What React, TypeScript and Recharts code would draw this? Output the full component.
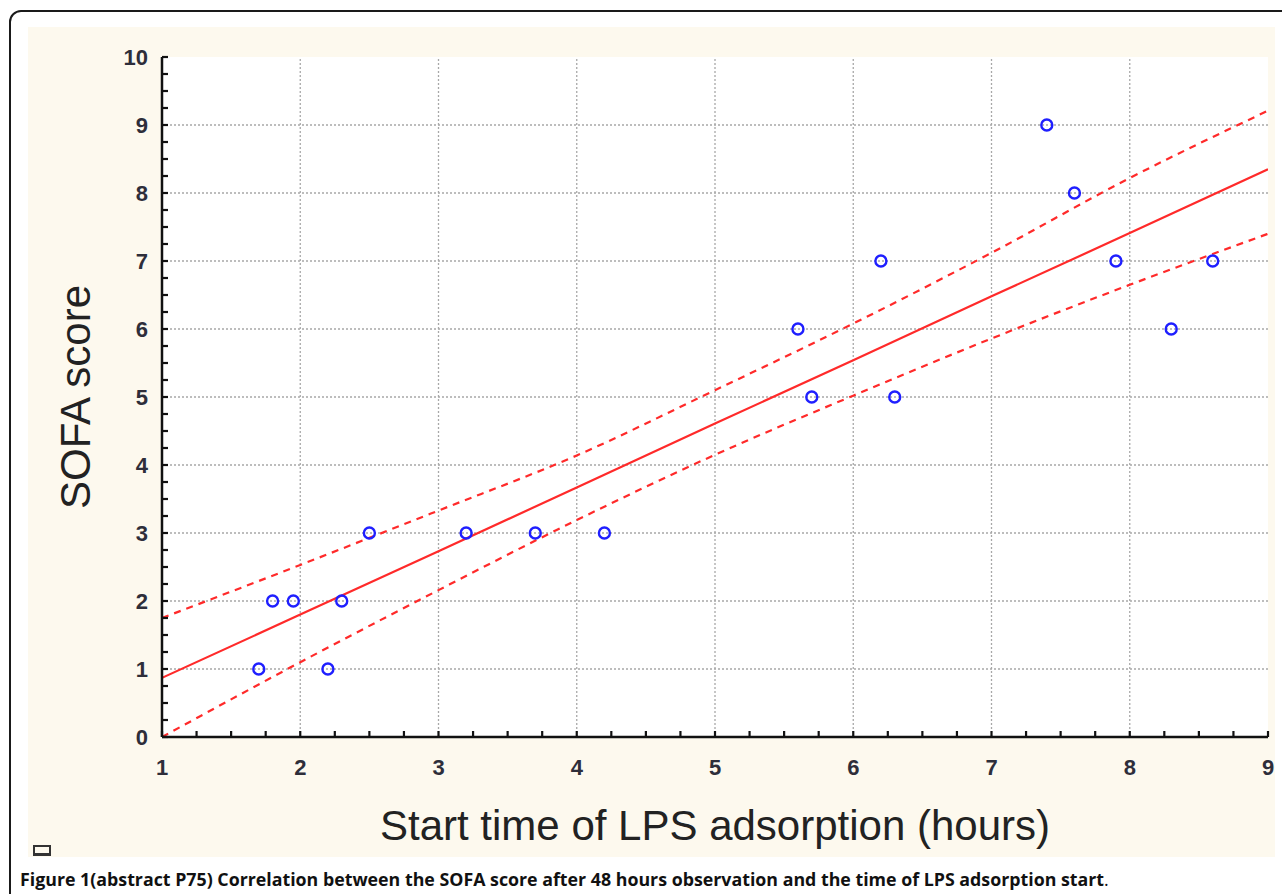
import React from 'react';
import { ComposedChart, Scatter, Line, XAxis, YAxis, ReferenceLine } from 'recharts';

// observations (start of LPS adsorption in hours, SOFA score after 48 h)
const startHours = [1.7, 1.8, 1.95, 2.2, 2.3, 2.5, 3.2, 3.7, 4.2, 5.6, 5.7, 6.2, 6.3, 7.4, 7.6, 7.9, 8.3, 8.6];
const sofaScores = [1, 2, 2, 1, 2, 3, 3, 3, 3, 6, 5, 7, 5, 9, 8, 7, 6, 7];

// regression line and 95% band
const fitHours = [1, 2, 3, 4, 5, 6, 7, 8, 9];
const fitCentre = [0.87, 1.8, 2.73, 3.67, 4.61, 5.54, 6.48, 7.41, 8.35];
const fitUpper = [1.75, 2.53, 3.33, 4.14, 5.1, 6.08, 7.12, 8.22, 9.21];
const fitLower = [0.0, 1.1, 2.16, 3.19, 4.15, 5.02, 5.86, 6.65, 7.4];

const xTickLabels = [1, 2, 3, 4, 5, 6, 7, 8, 9];
const yTickLabels = [0, 1, 2, 3, 4, 5, 6, 7, 8, 9, 10];

const points = startHours.map((x, i) => ({ x, y: sofaScores[i] }));
const band = fitHours.map((x, i) => ({ x, fit: fitCentre[i], upper: fitUpper[i], lower: fitLower[i] }));

// quarter-step minor ticks between the labelled ones
const withQuarters = (labels: number[]) => {
  const out: number[] = [];
  for (let i = 0; i < labels.length - 1; i++) {
    for (let k = 0; k < 4; k++) out.push(labels[i] + k * 0.25);
  }
  out.push(labels[labels.length - 1]);
  return out;
};
const xTicks = withQuarters(xTickLabels);
const yTicks = withQuarters(yTickLabels);

const AXIS = '#111';
const GRID = '#a8a8a8';
const RED = '#ff2a2a';
const TICK_LEN = 6;
const tickFont = { fontFamily: '"Liberation Sans", Arial, sans-serif', fontSize: 22, fontWeight: 700, fill: '#2e2e3a' };

const BottomTick = (props: any) => {
  const { x, y, payload } = props;
  const v = payload.value;
  return (
    <g>
      <line x1={x} x2={x} y1={y} y2={y - TICK_LEN} stroke={AXIS} strokeWidth={2.2} />
      {Number.isInteger(v) && (
        <text x={x} y={y + 30} textAnchor="middle" dominantBaseline="central" {...tickFont}>
          {v}
        </text>
      )}
    </g>
  );
};

const LeftTick = (props: any) => {
  const { x, y, payload } = props;
  const v = payload.value;
  return (
    <g>
      <line x1={x} x2={x + TICK_LEN} y1={y} y2={y} stroke={AXIS} strokeWidth={2.2} />
      {Number.isInteger(v) && (
        <text x={x - 14} y={y} textAnchor="end" dominantBaseline="central" {...tickFont}>
          {v}
        </text>
      )}
    </g>
  );
};

const TopTick = (props: any) => {
  const { x, y } = props;
  return <line x1={x} x2={x} y1={y} y2={y + TICK_LEN} stroke={AXIS} strokeWidth={2.2} />;
};

const RightTick = (props: any) => {
  const { x, y } = props;
  return <line x1={x} x2={x - TICK_LEN} y1={y} y2={y} stroke={AXIS} strokeWidth={2.2} />;
};

const YTitle = (props: any) => {
  const { viewBox } = props;
  const cx = viewBox.x + 47;
  const cy = viewBox.y + viewBox.height / 2;
  return (
    <text
      x={cx}
      y={cy}
      transform={`rotate(-90, ${cx}, ${cy})`}
      textAnchor="middle"
      dominantBaseline="central"
      fontFamily='"Liberation Sans", Arial, sans-serif'
      fontSize={42}
      fill="#222"
    >
      SOFA score
    </text>
  );
};

const Circle = (props: any) => {
  const { cx, cy } = props;
  return <circle cx={cx} cy={cy} r={5.5} fill="none" stroke="#1f1fff" strokeWidth={2.4} />;
};

export default function App() {
  return (
    <div style={{ position: 'absolute', left: 0, top: 0, width: 1282, height: 894, overflow: 'hidden', background: '#fff' }}>
      <div
        style={{
          position: 'absolute',
          left: 9,
          top: 10,
          width: 1320,
          height: 940,
          border: '2px solid #1a1a1a',
          borderRadius: 12,
          boxSizing: 'border-box',
        }}
      />
      <div style={{ position: 'absolute', left: 28, top: 27, width: 1247, height: 830, background: '#fdf9ee' }}>
        <ComposedChart width={1247} height={830} margin={{ top: 30, right: 7, bottom: 0, left: 0 }}>
          <rect x={134} y={30} width={1106} height={680} fill="#fff" />
          <XAxis
            dataKey="x"
            type="number"
            domain={[1, 9]}
            ticks={xTicks}
            interval={0}
            height={120}
            tickSize={0}
            tickMargin={0}
            tickLine={false}
            tick={<BottomTick />}
            axisLine={{ stroke: AXIS, strokeWidth: 2.5 }}
            allowDataOverflow
            label={{
              value: 'Start time of LPS adsorption (hours)',
              position: 'insideBottom',
              offset: 17,
              fontFamily: '"Liberation Sans", Arial, sans-serif',
              fontSize: 42,
              fill: '#222',
            }}
          />
          <XAxis
            xAxisId="top"
            orientation="top"
            type="number"
            domain={[1, 9]}
            ticks={xTicks}
            interval={0}
            height={0}
            tickSize={0}
            tickMargin={0}
            tickLine={false}
            tick={<TopTick />}
            axisLine={{ stroke: AXIS, strokeWidth: 2.5 }}
            allowDataOverflow
          />
          <YAxis
            type="number"
            domain={[0, 10]}
            ticks={yTicks}
            interval={0}
            width={134}
            tickSize={0}
            tickMargin={0}
            tickLine={false}
            tick={<LeftTick />}
            axisLine={{ stroke: AXIS, strokeWidth: 2.5 }}
            allowDataOverflow
            label={{ content: <YTitle /> }}
          />
          <YAxis
            yAxisId="right"
            orientation="right"
            type="number"
            domain={[0, 10]}
            ticks={yTicks}
            interval={0}
            width={0}
            tickSize={0}
            tickMargin={0}
            tickLine={false}
            tick={<RightTick />}
            axisLine={{ stroke: AXIS, strokeWidth: 2.5 }}
            allowDataOverflow
          />
          {xTickLabels.slice(1, -1).map((v) => (
            <ReferenceLine key={`vx${v}`} x={v} stroke={GRID} strokeDasharray="2 2" strokeWidth={1.3} />
          ))}
          {yTickLabels.slice(1, -1).map((v) => (
            <ReferenceLine key={`hy${v}`} y={v} stroke={GRID} strokeDasharray="2 2" strokeWidth={1.3} />
          ))}
          <Line
            data={band}
            dataKey="upper"
            type="monotone"
            stroke={RED}
            strokeWidth={2.2}
            strokeDasharray="7 6"
            dot={false}
            activeDot={false}
            isAnimationActive={false}
          />
          <Line
            data={band}
            dataKey="lower"
            type="monotone"
            stroke={RED}
            strokeWidth={2.2}
            strokeDasharray="7 6"
            dot={false}
            activeDot={false}
            isAnimationActive={false}
          />
          <Line
            data={band}
            dataKey="fit"
            type="linear"
            stroke={RED}
            strokeWidth={2.2}
            dot={false}
            activeDot={false}
            isAnimationActive={false}
          />
          <Scatter data={points} dataKey="y" shape={<Circle />} isAnimationActive={false} />
        </ComposedChart>
      </div>
      <div
        style={{
          position: 'absolute',
          left: 33,
          top: 845,
          width: 18,
          height: 11,
          border: '2px solid #333',
          borderBottomWidth: 3,
          boxSizing: 'border-box',
        }}
      />
      <div
        style={{
          position: 'absolute',
          left: 20,
          top: 868,
          whiteSpace: 'nowrap',
          fontFamily: '"Open Sans", "Noto Sans", sans-serif',
          fontWeight: 700,
          fontSize: 17.8,
          color: '#111',
          lineHeight: '22px',
        }}
      >
        Figure 1(abstract P75) Correlation between the SOFA score after 48 hours observation and the time of LPS adsorption start
        <span style={{ fontWeight: 400 }}>.</span>
      </div>
    </div>
  );
}
